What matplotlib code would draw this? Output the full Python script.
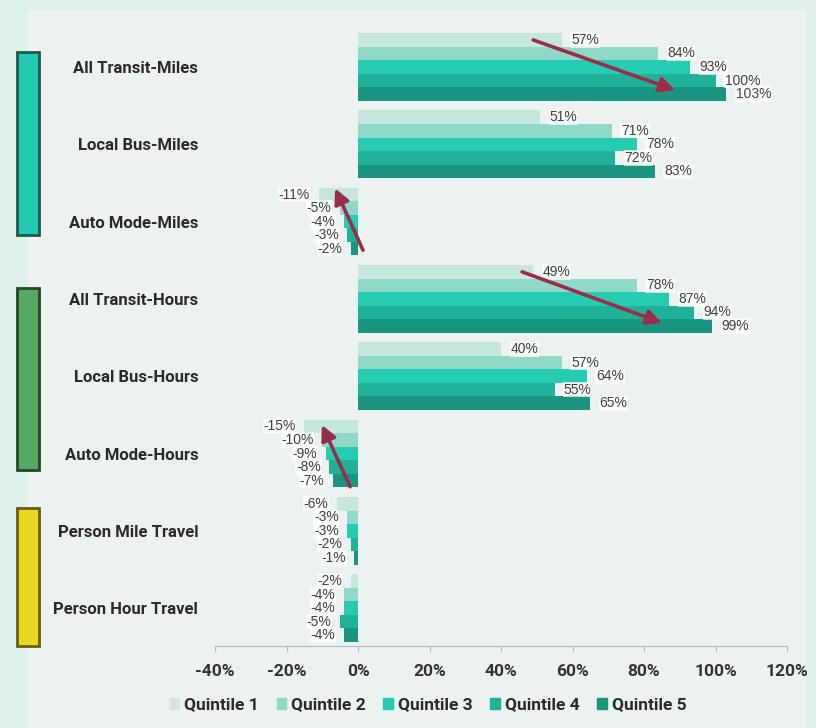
import numpy as np
import matplotlib
matplotlib.use('Agg')
import matplotlib.pyplot as plt
from matplotlib.patches import Rectangle

# ── Data ──────────────────────────────────────────────────────────────────────
categories = ['All Transit-Miles', 'Local Bus-Miles', 'Auto Mode-Miles',
              'All Transit-Hours', 'Local Bus-Hours', 'Auto Mode-Hours',
              'Person Mile Travel', 'Person Hour Travel']
quintiles = ['Quintile 1', 'Quintile 2', 'Quintile 3', 'Quintile 4', 'Quintile 5']
q1 = [57, 51, -11, 49, 40, -15, -6, -2]
q2 = [84, 71, -5, 78, 57, -10, -3, -4]
q3 = [93, 78, -4, 87, 64, -9, -3, -4]
q4 = [100, 72, -3, 94, 55, -8, -2, -5]
q5 = [103, 83, -2, 99, 65, -7, -1, -4]
series = [q1, q2, q3, q4, q5]
xticks = [-40, -20, 0, 20, 40, 60, 80, 100, 120]

colors = ['#c4e8de', '#8ed9c8', '#25ccb2', '#1fb299', '#1a957f']
legend_colors = ['#d3e6e0', '#8ed9c8', '#25ccb2', '#1fb299', '#1a957f']

# ── Figure ────────────────────────────────────────────────────────────────────
W, H = 816, 728
fig = plt.figure(figsize=(W / 100, H / 100), dpi=100)
fig.patch.set_facecolor('#dcefe8')

def px_rect(x0, y0, x1, y1, **kw):
    return Rectangle((x0 / W, 1 - y1 / H), (x1 - x0) / W, (y1 - y0) / H,
                     transform=fig.transFigure, **kw)

# lighter inner panel
fig.patches.append(px_rect(28, 10, 806, 728, facecolor='#ebf2ef', edgecolor='none', zorder=-2))

# colour keys for the three metric groups
fig.patches.append(px_rect(17, 52, 39, 235, facecolor='#22c9b0', edgecolor='#1d5a4b', lw=2, zorder=-1))
fig.patches.append(px_rect(17, 288, 39, 470, facecolor='#56a862', edgecolor='#1f4a25', lw=2, zorder=-1))
fig.patches.append(px_rect(17, 508, 39, 646, facecolor='#e8d823', edgecolor='#6b5e10', lw=2, zorder=-1))

ax = fig.add_axes([215 / W, 1 - 646 / H, (787 - 215) / W, (646 - 20.6) / H])
ax.set_facecolor('none')
ax.set_zorder(2)

y = np.arange(len(categories))
h = 0.175
label_kw = dict(va='center', fontsize=10, color='#404040', family='Liberation Sans', zorder=3,
                bbox=dict(boxstyle='square,pad=0.05', fc='white', ec='none', alpha=0.7))
for j, (vals, c, name) in enumerate(zip(series, colors, quintiles)):
    pos = y + (j - 2) * h
    ax.barh(pos, vals, height=h, color=c, label=name, zorder=2)
    for yy, v in zip(pos, vals):
        if v >= 0:
            ax.text(v + 2.6, yy, f'{v}%', ha='left', **label_kw)
        else:
            ax.text(v - 2.4, yy, f'{v}%', ha='right', **label_kw)

# trend arrows
arrows = [((49.0, -0.35), (88.7, 0.30)),
          ((1.4, 2.37), (-6.4, 1.57)),
          ((45.9, 2.65), (85.0, 3.31)),
          ((-2.2, 5.43), (-10.1, 4.63))]
for start, end in arrows:
    ax.annotate('', xy=end, xytext=start, zorder=4,
                arrowprops=dict(arrowstyle='-|>,head_length=0.9,head_width=0.45',
                                color='#9b2d4a', lw=2.6, shrinkA=0, shrinkB=0))

ax.set_xlim(-40, 120)
ax.set_ylim(7.49, -0.6)
ax.set_xticks(xticks)
ax.set_xticklabels([f'{t}%' for t in xticks], fontsize=12.5, fontweight='bold',
                   color='#333333', family='Roboto')
ax.set_yticks(y)
ax.set_yticklabels(categories, fontsize=12, fontweight='bold', color='#2a2a2a',
                   family='Roboto')
ax.tick_params(axis='y', length=0, pad=12)
ax.tick_params(axis='x', length=4, color='#bbbbbb', pad=9)
for s in ['top', 'right', 'left']:
    ax.spines[s].set_visible(False)
ax.spines['bottom'].set_color('#bbbbbb')

handles = [Rectangle((0, 0), 1, 1, color=c) for c in legend_colors]
fig.legend(handles, quintiles, loc='center', bbox_to_anchor=(428 / W, 1 - 705 / H),
           ncol=5, frameon=False, handlelength=0.55, handleheight=0.55,
           handletextpad=0.3, columnspacing=1.0,
           prop=dict(family='Roboto', weight='bold', size=12.5))
for t in fig.legends[0].get_texts():
    t.set_color('#2a2a2a')

fig.savefig('out.png', dpi=100, facecolor=fig.get_facecolor())
